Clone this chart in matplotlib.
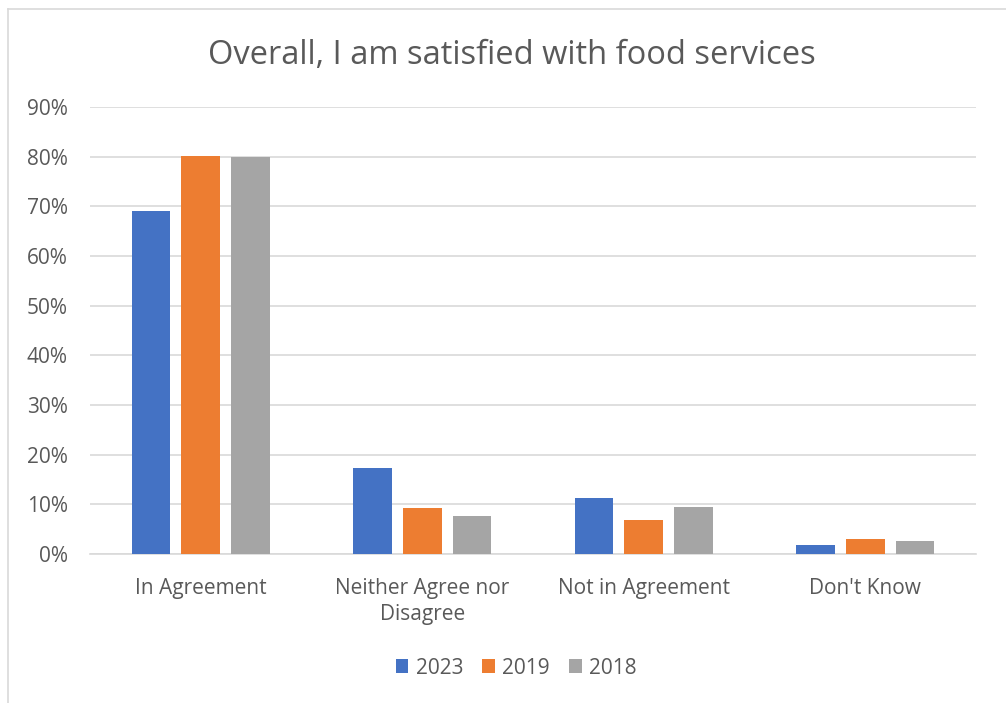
import matplotlib
matplotlib.use("Agg")
import matplotlib.pyplot as plt
import numpy as np
from matplotlib.lines import Line2D

categories = ["In Agreement", "Neither Agree nor\nDisagree", "Not in Agreement", "Don't Know"]
series_names = ["2023", "2019", "2018"]
v2023 = [69.0, 17.4, 11.3, 1.9]
v2019 = [80.2, 9.3, 6.9, 3.0]
v2018 = [80.0, 7.7, 9.4, 2.6]
colors = ["#4472C4", "#ED7D31", "#A5A5A5"]
yticks = [0, 10, 20, 30, 40, 50, 60, 70, 80, 90]

plt.rcParams['font.family'] = ['Open Sans', 'DejaVu Sans']
W, H = 1006, 703
fig = plt.figure(figsize=(W / 100, H / 100), dpi=100)
# chart border (left and top only are visible)
fig.lines.append(Line2D([7.5 / W, 7.5 / W], [0, 1 - 8.5 / H], transform=fig.transFigure,
                        color="#D9D9D9", linewidth=1.2))
fig.lines.append(Line2D([7.5 / W, 1], [1 - 8.5 / H, 1 - 8.5 / H], transform=fig.transFigure,
                        color="#D9D9D9", linewidth=1.2))

ax = fig.add_axes([90 / W, 1 - 554 / H, (976 - 90) / W, (554 - 107) / H])
x = np.arange(len(categories))
bw = 0.175
gap = 0.05
offsets = [-(bw + gap), 0, bw + gap]
for vals, c, off, name in zip([v2023, v2019, v2018], colors, offsets, series_names):
    ax.bar(x + off, vals, width=bw, color=c, label=name, zorder=3)

ax.set_xlim(-0.5, len(categories) - 0.5)
ax.set_ylim(0, 90)
ax.set_yticks(yticks)
ax.set_yticklabels([f"{t}%" for t in yticks])
ax.yaxis.grid(True, color="#D9D9D9", linewidth=1.2, zorder=0)
ax.set_xticks(x)
ax.set_xticklabels(categories, linespacing=1.35)
for s in ["top", "right", "left"]:
    ax.spines[s].set_visible(False)
ax.spines["bottom"].set_color("#D9D9D9")
ax.spines["bottom"].set_linewidth(1.2)
ax.tick_params(axis="both", length=0, labelsize=15, colors="#595959")
ax.tick_params(axis="x", pad=17)
ax.tick_params(axis="y", pad=16)

fig.text(512 / W, 1 - 55 / H, "Overall, I am satisfied with food services", ha="center", va="center",
         fontsize=23.5, color="#595959")

ax.legend(loc="center", bbox_to_anchor=(0.5 - 17 / 886, (554 - 668) / (554 - 107)), ncol=3, frameon=False,
          fontsize=15, labelcolor="#595959", handlelength=0.62, handleheight=0.62,
          handletextpad=0.35, columnspacing=0.9)

fig.savefig("out.png", dpi=100)
